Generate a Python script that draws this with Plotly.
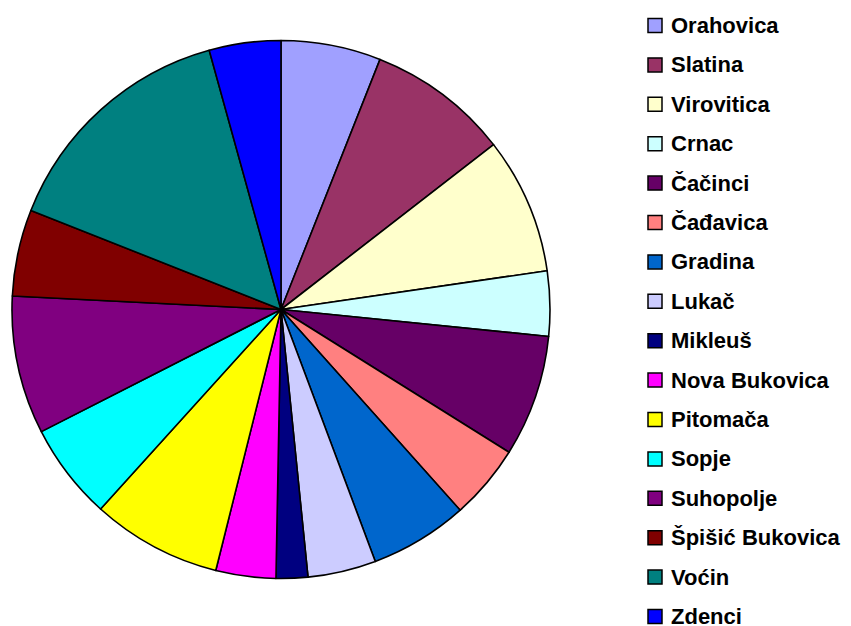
import plotly.graph_objects as go

labels = ["Orahovica", "Slatina", "Virovitica", "Crnac", "Čačinci", "Čađavica",
          "Gradina", "Lukač", "Mikleuš", "Nova Bukovica", "Pitomača", "Sopje",
          "Suhopolje", "Špišić Bukovica", "Voćin", "Zdenci"]
values = [6.0, 8.5, 8.2, 3.9, 7.3, 4.5, 5.9, 4.1, 1.9, 3.6, 7.8, 5.8, 8.3, 5.2, 14.7, 4.3]
colors = ["#A0A0FF", "#993366", "#FFFFCC", "#CCFFFF", "#660066", "#FF8080",
          "#0066CC", "#CCCCFF", "#000080", "#FF00FF", "#FFFF00", "#00FFFF",
          "#800080", "#800000", "#008080", "#0000FF"]

W, H = 851, 626
cx, cy, r = 281, 309.5, 269

fig = go.Figure(go.Pie(
    labels=labels, values=values, sort=False, direction="clockwise", rotation=0,
    marker=dict(colors=colors, line=dict(color="black", width=1.6)),
    textinfo="none", hoverinfo="label+value", showlegend=False,
    domain=dict(x=[(cx - r) / W, (cx + r) / W], y=[(H - cy - r) / H, (H - cy + r) / H]),
))

shapes, annotations = [], []
y0, step = 25.5, 39.4
for i, (lab, col) in enumerate(zip(labels, colors)):
    yc = y0 + i * step
    shapes.append(dict(type="rect", xref="paper", yref="paper",
                       x0=648 / W, x1=662 / W,
                       y0=1 - (yc + 7) / H, y1=1 - (yc - 7) / H,
                       fillcolor=col, line=dict(color="black", width=1.5)))
    annotations.append(dict(text="<b>" + lab + "</b>", xref="paper", yref="paper",
                            x=670 / W, y=1 - yc / H, xanchor="left", yanchor="middle",
                            showarrow=False, borderpad=0,
                            font=dict(family="Liberation Sans, Arial", size=22, color="black")))

fig.update_layout(width=W, height=H, margin=dict(l=0, r=0, t=0, b=0),
                  paper_bgcolor="white", plot_bgcolor="white",
                  shapes=shapes, annotations=annotations)
fig.write_html("out.html", config={"displayModeBar": False},
               post_script="document.body.style.margin='0';document.body.style.overflow='hidden';")
